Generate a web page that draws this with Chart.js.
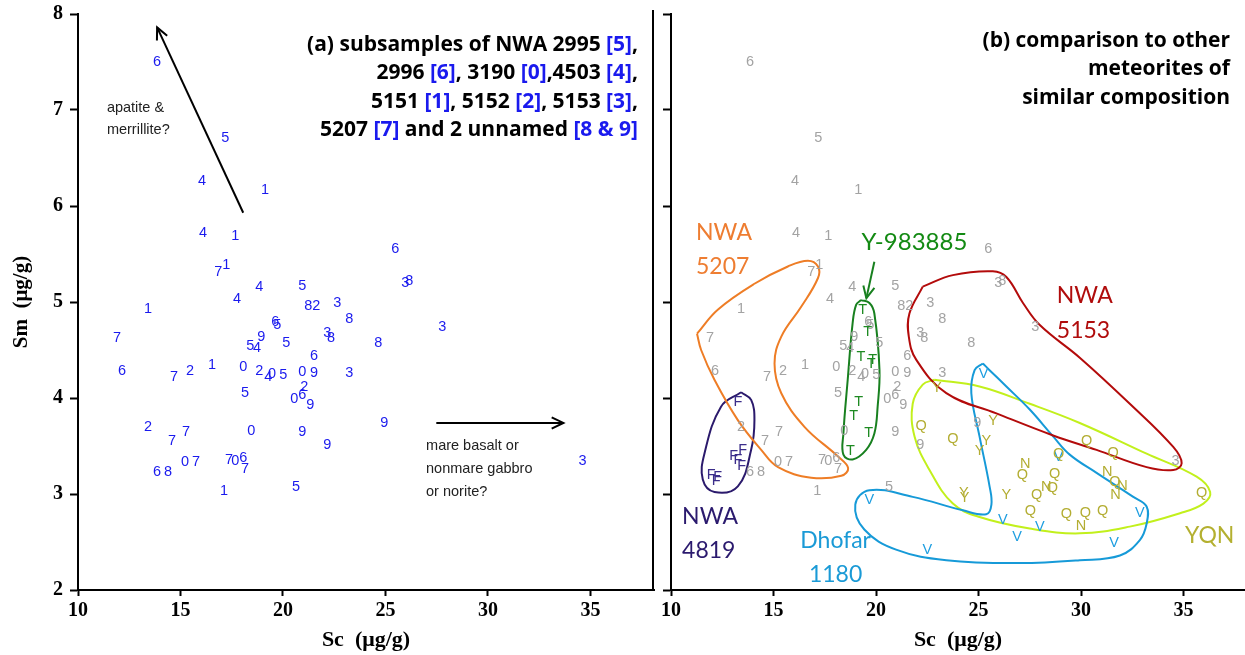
<!DOCTYPE html>
<html>
<head>
<meta charset="utf-8">
<script src="https://cdn.jsdelivr.net/npm/chart.js@4.4.1/dist/chart.umd.min.js"></script>
<style>
  html, body { margin: 0; padding: 0; background: #fff; }
  #wrap { position: relative; width: 1245px; height: 655px; overflow: hidden; }
  #left { position: absolute; left: 0; top: 0; }
  #right { position: absolute; left: 656px; top: 0; }
</style>
</head>
<body>
<div id="wrap">
  <canvas id="left" width="656" height="655"></canvas>
  <canvas id="right" width="589" height="655"></canvas>
</div>
<script>
// axis ticks
const xTicks = [10, 15, 20, 25, 30, 35];
const yTicks = [2, 3, 4, 5, 6, 7, 8];

// subsamples, Sc vs Sm (ug/g); label digit in [ ]
const s0 = [[18.06,4.32],[19.47,4.25],[20.94,4.27],[20.55,3.99],[18.45,3.66],[15.22,3.33],[17.67,3.34]]; // 3190
const s1 = [[19.13,6.17],[17.67,5.69],[17.23,5.39],[13.42,4.93],[16.54,4.34],[17.13,3.03]];             // 5151
const s2 = [[21.62,4.96],[15.47,4.28],[18.84,4.28],[21.04,4.11],[13.42,3.70]];                          // 5152
const s3 = [[22.65,4.99],[25.97,5.20],[27.77,4.74],[22.16,4.68],[23.23,4.26],[34.61,3.34]];             // 5153
const s4 = [[16.05,6.26],[16.10,5.72],[17.76,5.03],[18.84,5.16],[18.74,4.52],[19.28,4.22]];             // 4503
const s5 = [[17.18,6.71],[20.94,5.17],[19.72,4.76],[18.40,4.54],[20.16,4.57],[20.01,4.24],[18.15,4.05],[20.64,3.07]]; // 2995
const s6 = [[13.86,7.50],[25.48,5.55],[19.62,4.79],[21.52,4.44],[12.15,4.28],[20.94,4.03],[13.86,3.23],[18.06,3.38]]; // 2996
const s7 = [[16.84,5.31],[11.90,4.63],[14.69,4.22],[14.59,3.55],[15.27,3.65],[15.76,3.33],[17.37,3.35],[18.15,3.26]]; // 5207
const s8 = [[21.23,4.96],[23.23,4.82],[26.16,5.22],[22.35,4.63],[24.65,4.57],[14.39,3.23]];             // unnamed
const s9 = [[18.94,4.64],[21.52,4.26],[21.33,3.93],[20.94,3.65],[22.16,3.51],[24.94,3.74]];             // unnamed
const sampleSets = [s0, s1, s2, s3, s4, s5, s6, s7, s8, s9];

// other meteorites
const nwa4819 = [[13.26,3.96],[13.50,3.46],[13.06,3.40],[13.26,3.35],[13.45,3.29],[11.96,3.20],[12.28,3.18],[12.20,3.14]];
const y983885 = [[19.35,4.92],[19.60,4.69],[19.27,4.43],[19.84,4.40],[19.76,4.35],[19.16,3.96],[18.91,3.81],[19.64,3.64],[18.75,3.45]];
const dhofar1180 = [[25.25,4.25],[28.91,3.39],[32.87,2.80],[26.19,2.73],[27.99,2.66],[26.88,2.55],[31.62,2.49],[22.50,2.42],[19.68,2.94]];
const yqnQ = [[22.20,3.71],[23.75,3.57],[30.27,3.55],[31.57,3.43],[28.91,3.42],[27.14,3.20],[28.72,3.21],[28.61,3.06],[27.83,2.99],[31.65,3.13],[35.89,3.01],[27.53,2.82],[29.29,2.79],[30.22,2.80],[31.05,2.82]];
const yqnN = [[27.28,3.31],[28.30,3.07],[31.28,3.23],[32.02,3.08],[31.68,2.99],[30.00,2.67]];
const yqnY = [[22.97,4.10],[25.71,3.76],[25.38,3.55],[25.05,3.45],[24.29,3.01],[24.32,2.96],[26.36,2.99]];

// hand-drawn field outlines
const outline5207 = [[11.27,4.67],[12.28,4.92],[14.07,5.19],[15.70,5.37],[16.68,5.43],[17.17,5.37],[17.17,5.25],[16.35,4.95],[15.38,4.64],[15.05,4.36],[15.38,4.05],[16.51,3.70],[18.15,3.39],[18.64,3.27],[18.31,3.19],[16.84,3.17],[15.22,3.28],[14.40,3.46],[13.26,3.77],[12.12,4.19],[11.47,4.50]];
const outline4819 = [[13.42,4.06],[13.91,3.98],[14.07,3.77],[13.91,3.46],[13.26,3.08],[12.12,3.02],[11.55,3.15],[11.63,3.42],[12.44,3.91]];
const outlineY98 = [[19.27,5.02],[19.68,4.99],[19.92,4.88],[20.17,4.29],[20.08,3.91],[19.92,3.63],[19.52,3.46],[18.86,3.36],[18.41,3.41],[18.41,3.63],[18.62,4.19],[18.86,4.78],[19.03,4.97]];
const outline5153 = [[22.28,5.16],[23.75,5.28],[25.70,5.32],[26.36,5.26],[27.17,4.99],[27.99,4.76],[29.94,4.42],[32.38,3.94],[34.50,3.49],[34.91,3.32],[34.50,3.25],[33.20,3.28],[30.76,3.46],[28.64,3.61],[25.87,3.84],[23.43,4.05],[21.96,4.40],[21.60,4.64],[21.63,4.88]];
const outlineDho = [[25.21,4.36],[25.54,4.29],[26.36,4.12],[27.50,3.88],[28.64,3.60],[29.45,3.41],[30.76,3.22],[32.55,2.97],[33.20,2.87],[33.20,2.69],[32.87,2.52],[31.90,2.36],[29.94,2.31],[27.01,2.28],[23.43,2.31],[20.98,2.42],[19.43,2.63],[18.99,2.89],[19.68,3.04],[21.79,2.97],[24.24,2.83],[25.38,2.79],[25.63,2.89],[25.54,3.08],[25.05,3.60],[24.65,4.05],[24.81,4.29]];
const outlineYQN = [[22.85,4.19],[25.05,4.12],[27.50,3.94],[29.94,3.74],[33.20,3.42],[35.64,3.18],[36.30,3.02],[35.97,2.90],[34.83,2.80],[32.38,2.66],[29.94,2.59],[27.50,2.64],[25.05,2.76],[23.75,2.90],[22.61,3.25],[21.88,3.60],[21.79,3.94],[22.28,4.14]];

// annotation arrows (data coords: from, to)
const leftArrows = [[[18.06,5.93],[13.86,7.86]], [[27.48,3.74],[33.68,3.74]]];
const rightArrows = [[[19.92,5.42],[19.53,5.04]]];

const pts = a => a.map(p => ({x: p[0], y: p[1]}));
const loop = a => pts(a.concat([a[0]]));
const SERIF = '"Liberation Serif", "DejaVu Serif", serif';
const SANS = '"Liberation Sans", Arial, sans-serif';
const HUM = 'Lato, "Open Sans", sans-serif';
const HEAD = '"Open Sans", Lato, sans-serif';

function markSet(data, mark, color) {
  return { data: pts(data), mark: mark, markColor: color, pointRadius: 0, pointHoverRadius: 0, showLine: false };
}
function outlineSet(data, color) {
  return { data: loop(data), showLine: true, borderColor: color, borderWidth: 2, pointRadius: 0, tension: 0.4, fill: false };
}

function arrow(ctx, x0, y0, x1, y1) {
  ctx.beginPath(); ctx.moveTo(x0, y0); ctx.lineTo(x1, y1); ctx.stroke();
  const a = Math.atan2(y1 - y0, x1 - x0), L = 13, w = 0.45;
  ctx.beginPath();
  ctx.moveTo(x1 - L * Math.cos(a - w), y1 - L * Math.sin(a - w));
  ctx.lineTo(x1, y1);
  ctx.lineTo(x1 - L * Math.cos(a + w), y1 - L * Math.sin(a + w));
  ctx.stroke();
}

const notesPlugin = {
  id: 'notes',
  afterDatasetsDraw(chart, args, o) {
    const { ctx, chartArea: ca, scales } = chart;
    const sx = scales.x, sy = scales.y;
    ctx.save();
    ctx.textAlign = 'center';
    ctx.textBaseline = 'middle';
    chart.data.datasets.forEach((ds, i) => {
      if (!ds.mark) return;
      ctx.font = '14.5px ' + SANS;
      ctx.fillStyle = ds.markColor;
      chart.getDatasetMeta(i).data.forEach(p => ctx.fillText(ds.mark, p.x, p.y));
    });
    (o.arrows || []).forEach(a => {
      ctx.strokeStyle = a.color; ctx.lineWidth = 2;
      arrow(ctx, sx.getPixelForValue(a.from[0]), sy.getPixelForValue(a.from[1]),
                 sx.getPixelForValue(a.to[0]), sy.getPixelForValue(a.to[1]));
    });
    (o.texts || []).forEach(t => {
      ctx.font = t.font; ctx.fillStyle = t.color; ctx.textAlign = t.align || 'left';
      const x = sx.getPixelForValue(t.at[0]), y = sy.getPixelForValue(t.at[1]);
      t.lines.forEach((ln, k) => ctx.fillText(ln, x, y + k * t.gap));
    });
    if (o.title) {
      ctx.font = 'bold 21px ' + HEAD;
      ctx.textAlign = 'left';
      const rx = ca.right - o.title.right;
      o.title.lines.forEach((segs, k) => {
        const w = segs.reduce((s, g) => s + ctx.measureText(g[0]).width, 0);
        let x = rx - w;
        const y = ca.top + o.title.top + k * 28.5;
        segs.forEach(g => { ctx.fillStyle = g[1]; ctx.fillText(g[0], x, y); x += ctx.measureText(g[0]).width; });
      });
    }
    if (o.rightBorder) {
      ctx.strokeStyle = '#000'; ctx.lineWidth = 2;
      ctx.beginPath(); ctx.moveTo(ca.right - 1, ca.top - 4); ctx.lineTo(ca.right - 1, ca.bottom); ctx.stroke();
    }
    ctx.restore();
  }
};

function scalesFor(xMax, leftAxis) {
  return {
    x: {
      type: 'linear', min: 10, max: xMax,
      afterBuildTicks: s => { s.ticks = xTicks.map(v => ({ value: v })); },
      afterFit: s => { s.height = 65; s.paddingLeft = 0; s.paddingRight = 0; },
      ticks: { color: '#000', font: { family: SERIF, size: 20, weight: 'bold' }, padding: 3, maxRotation: 0 },
      grid: { drawOnChartArea: false, drawTicks: true, tickLength: 6, tickColor: '#000', tickWidth: 2 },
      border: { color: '#000', width: 2 },
      title: { display: true, text: 'Sc  (\u03bcg/g)', color: '#000', font: { family: SERIF, size: 22, weight: 'bold' }, padding: { top: 0, bottom: 1 } }
    },
    y: {
      type: 'linear', min: 2, max: 8,
      afterBuildTicks: s => { s.ticks = yTicks.map(v => ({ value: v })); },
      afterFit: s => { s.width = leftAxis ? 78 : 15; s.paddingTop = 0; s.paddingBottom = 0; },
      ticks: { display: leftAxis, color: '#000', font: { family: SERIF, size: 20, weight: 'bold' }, padding: 7 },
      grid: { drawOnChartArea: false, drawTicks: true, tickLength: 8, tickColor: '#000', tickWidth: 2 },
      border: { color: '#000', width: 2 },
      title: { display: leftAxis, text: 'Sm  (\u03bcg/g)', color: '#000', font: { family: SERIF, size: 21, weight: 'bold' }, padding: { top: 9, bottom: 0 } }
    }
  };
}

const BLUE = '#1a1aee', GREY = '#a3a3a3';
const baseOpts = { responsive: false, animation: false, events: [], layout: { padding: { top: 14, right: 2, bottom: 0, left: 0 } } };

new Chart(document.getElementById('left'), {
  type: 'scatter',
  data: { datasets: sampleSets.map((s, d) => markSet(s, String(d), BLUE)) },
  options: Object.assign({}, baseOpts, {
    scales: scalesFor(38.1, true),
    plugins: {
      legend: { display: false }, tooltip: { enabled: false },
      notes: {
        rightBorder: true,
        arrows: leftArrows.map(a => ({ from: a[0], to: a[1], color: '#000' })),
        texts: [
          { at: [11.41, 7.02], lines: ['apatite &', 'merrillite?'], gap: 22, color: '#222', font: '14.5px ' + SANS },
          { at: [26.98, 3.50], lines: ['mare basalt or', 'nonmare gabbro', 'or norite?'], gap: 23, color: '#222', font: '14.5px ' + SANS }
        ],
        title: { right: 16, top: 31, lines: [
          [['(a) subsamples of NWA 2995 ', '#000'], ['[5]', BLUE], [',', '#000']],
          [['2996 ', '#000'], ['[6]', BLUE], [', 3190 ', '#000'], ['[0]', BLUE], [',4503 ', '#000'], ['[4]', BLUE], [',', '#000']],
          [['5151 ', '#000'], ['[1]', BLUE], [', 5152 ', '#000'], ['[2]', BLUE], [', 5153 ', '#000'], ['[3]', BLUE], [',', '#000']],
          [['5207 ', '#000'], ['[7]', BLUE], [' and 2 unnamed ', '#000'], ['[8 & 9]', BLUE]]
        ] }
      }
    }
  }),
  plugins: [notesPlugin]
});

const OLIVE = '#b3ad32';
new Chart(document.getElementById('right'), {
  type: 'scatter',
  data: { datasets: [
    outlineSet(outline5207, '#ee7d26'),
    outlineSet(outline4819, '#2b1a6c'),
    outlineSet(outlineY98, '#18801f'),
    outlineSet(outline5153, '#b30b0b'),
    outlineSet(outlineDho, '#169ad8'),
    outlineSet(outlineYQN, '#c2f01c')
  ].concat(sampleSets.map((s, d) => markSet(s, String(d), GREY))).concat([
    markSet(nwa4819, 'F', '#3b2d8a'),
    markSet(y983885, 'T', '#1e8a22'),
    markSet(dhofar1180, 'V', '#1e9ee0'),
    markSet(yqnQ, 'Q', OLIVE),
    markSet(yqnN, 'N', OLIVE),
    markSet(yqnY, 'Y', OLIVE)
  ]) },
  options: Object.assign({}, baseOpts, {
    layout: { padding: { top: 14, right: 0, bottom: 0, left: 0 } },
    scales: scalesFor(38, false),
    plugins: {
      legend: { display: false }, tooltip: { enabled: false },
      notes: {
        arrows: rightArrows.map(a => ({ from: a[0], to: a[1], color: '#18801f' })),
        texts: [
          { at: [11.22, 5.72], lines: ['NWA', '5207'], gap: 34, color: '#ee7d31', font: '23px ' + HUM },
          { at: [19.29, 5.625], lines: ['Y-983885'], gap: 0, color: '#138a13', font: '24px ' + HUM },
          { at: [28.82, 5.07], lines: ['NWA', '5153'], gap: 35, color: '#b00c0c', font: '23px ' + HUM },
          { at: [10.54, 2.77], lines: ['NWA', '4819'], gap: 34, color: '#2b1a6e', font: '23px ' + HUM },
          { at: [18.03, 2.52], lines: ['Dhofar', '1180'], gap: 34, color: '#1a9ad6', font: '23px ' + HUM, align: 'center' },
          { at: [35.07, 2.57], lines: ['YQN'], gap: 0, color: '#b4b030', font: '23px ' + HUM }
        ],
        title: { right: 15, top: 27, lines: [
          [['(b) comparison to other', '#000']],
          [['meteorites of', '#000']],
          [['similar composition', '#000']]
        ] }
      }
    }
  }),
  plugins: [notesPlugin]
});
</script>
</body>
</html>
